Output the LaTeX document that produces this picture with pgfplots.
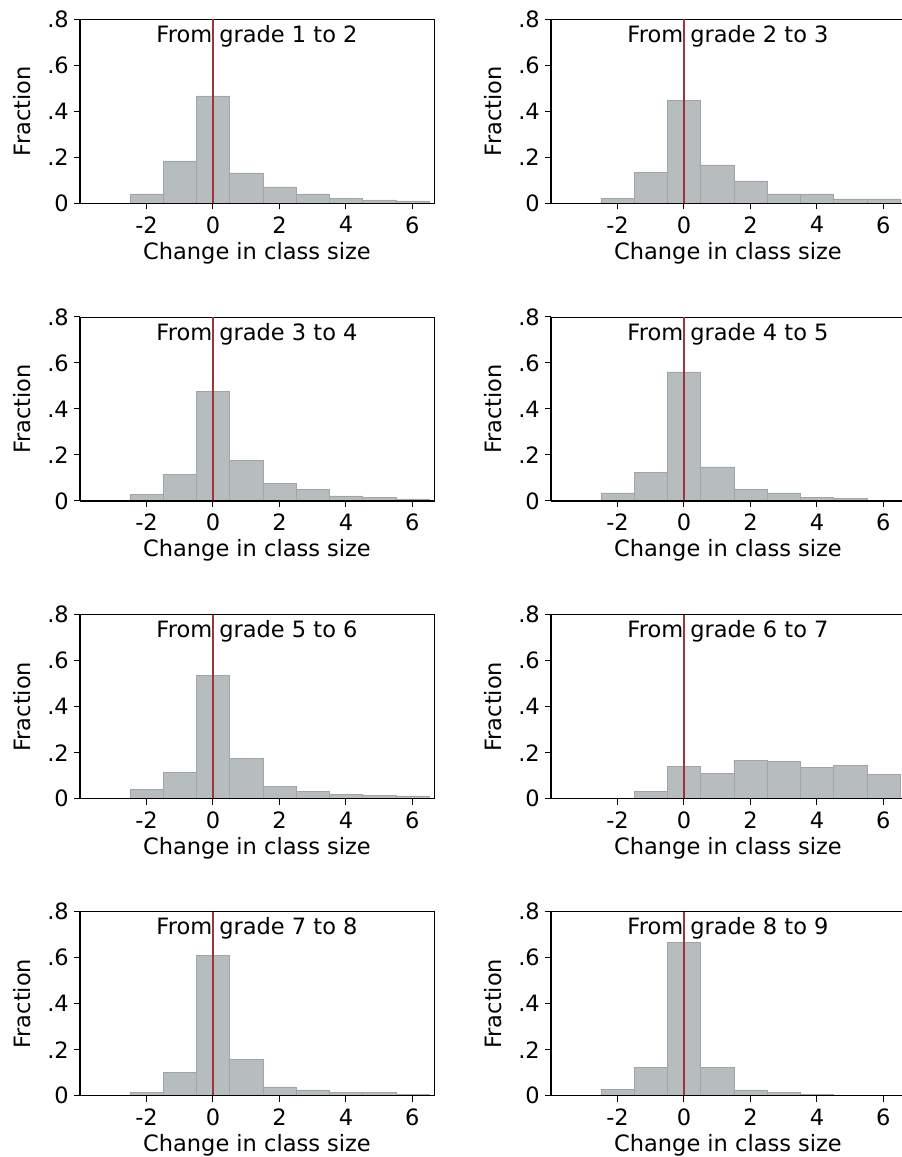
\documentclass[border=0pt]{standalone}
\usepackage{fontspec}
\setmainfont{DejaVu Sans}
\usepackage{pgfplots}
\pgfplotsset{compat=1.18}
\definecolor{barfill}{RGB}{183,188,190}
\definecolor{baredge}{RGB}{160,165,168}
\definecolor{refred}{RGB}{160,52,60}

\pgfplotsset{
  panel/.style={
    scale only axis, width=354pt, height=184pt,
    xmin=-4, xmax=6.65, ymin=0, ymax=0.8,
    xtick={-2,0,2,4,6}, xticklabels={-2,0,2,4,6},
    ytick={0,0.2,0.4,0.6,0.8}, yticklabels={0,.2,.4,.6,.8},
    tick align=outside, major tick length=6pt,
    xtick pos=bottom, ytick pos=left,
    tick style={black, line width=1pt},
    axis line style={black, line width=0.8pt},
    font=\fontsize{22.5}{27}\selectfont,
    ticklabel style={font=\fontsize{22.5}{27}\selectfont},
    yticklabel style={inner sep=0pt, xshift=-5pt},
    xticklabel style={inner sep=0pt, yshift=-7pt},
    xlabel={Change in class size},
    ylabel={Fraction},
    xlabel style={at={(axis description cs:0.5,-0.27)}, anchor=center, inner sep=0pt},
    ylabel style={at={(axis description cs:-0.164,0.5)}, anchor=center, inner sep=0pt},
    clip=false,
  },
}

\newcommand{\panel}[4]{%
  \begin{axis}[panel, at={(#1pt,#2pt)}, anchor=south west]
    \addplot[ybar, bar width=1, fill=barfill, draw=baredge, line width=0.5pt] coordinates {#4};
    \addplot[refred, line width=1.2pt] coordinates {(0,0) (0,0.8)};
    \draw[black, line width=1.4pt] (rel axis cs:0,0) -- (rel axis cs:0,1);
    \draw[black, line width=1.4pt] (rel axis cs:0,0) -- (rel axis cs:1,0);
    \node[anchor=north, inner sep=0pt, yshift=-6pt] at (rel axis cs:0.5,1) {From grade #3};
  \end{axis}%
}

\begin{document}
\begin{tikzpicture}[x=1pt,y=1pt]
\path[use as bounding box] (0,0) rectangle (902,1157);
\panel{80}{953.7}{1 to 2}{(-2,0.041) (-1,0.184) (0,0.467) (1,0.132) (2,0.071) (3,0.041) (4,0.023) (5,0.0145) (6,0.010)}
\panel{551}{953.7}{2 to 3}{(-2,0.023) (-1,0.136) (0,0.446) (1,0.167) (2,0.097) (3,0.041) (4,0.041) (5,0.019) (6,0.019)}
\panel{80}{656}{3 to 4}{(-2,0.030) (-1,0.117) (0,0.478) (1,0.178) (2,0.078) (3,0.052) (4,0.022) (5,0.017) (6,0.009)}
\panel{551}{656}{4 to 5}{(-2,0.035) (-1,0.126) (0,0.561) (1,0.148) (2,0.052) (3,0.035) (4,0.017) (5,0.013) (6,0.001)}
\panel{80}{358.3}{5 to 6}{(-2,0.042) (-1,0.116) (0,0.536) (1,0.176) (2,0.055) (3,0.033) (4,0.020) (5,0.016) (6,0.012)}
\panel{551}{358.3}{6 to 7}{(-2,0.001) (-1,0.033) (0,0.142) (1,0.111) (2,0.168) (3,0.163) (4,0.137) (5,0.146) (6,0.107)}
\panel{80}{61.3}{7 to 8}{(-2,0.016) (-1,0.103) (0,0.609) (1,0.159) (2,0.038) (3,0.025) (4,0.016) (5,0.016) (6,0.007)}
\panel{551}{61.3}{8 to 9}{(-2,0.029) (-1,0.124) (0,0.666) (1,0.124) (2,0.025) (3,0.016) (4,0.007) (5,0.002) (6,0.001)}
\end{tikzpicture}
\end{document}
